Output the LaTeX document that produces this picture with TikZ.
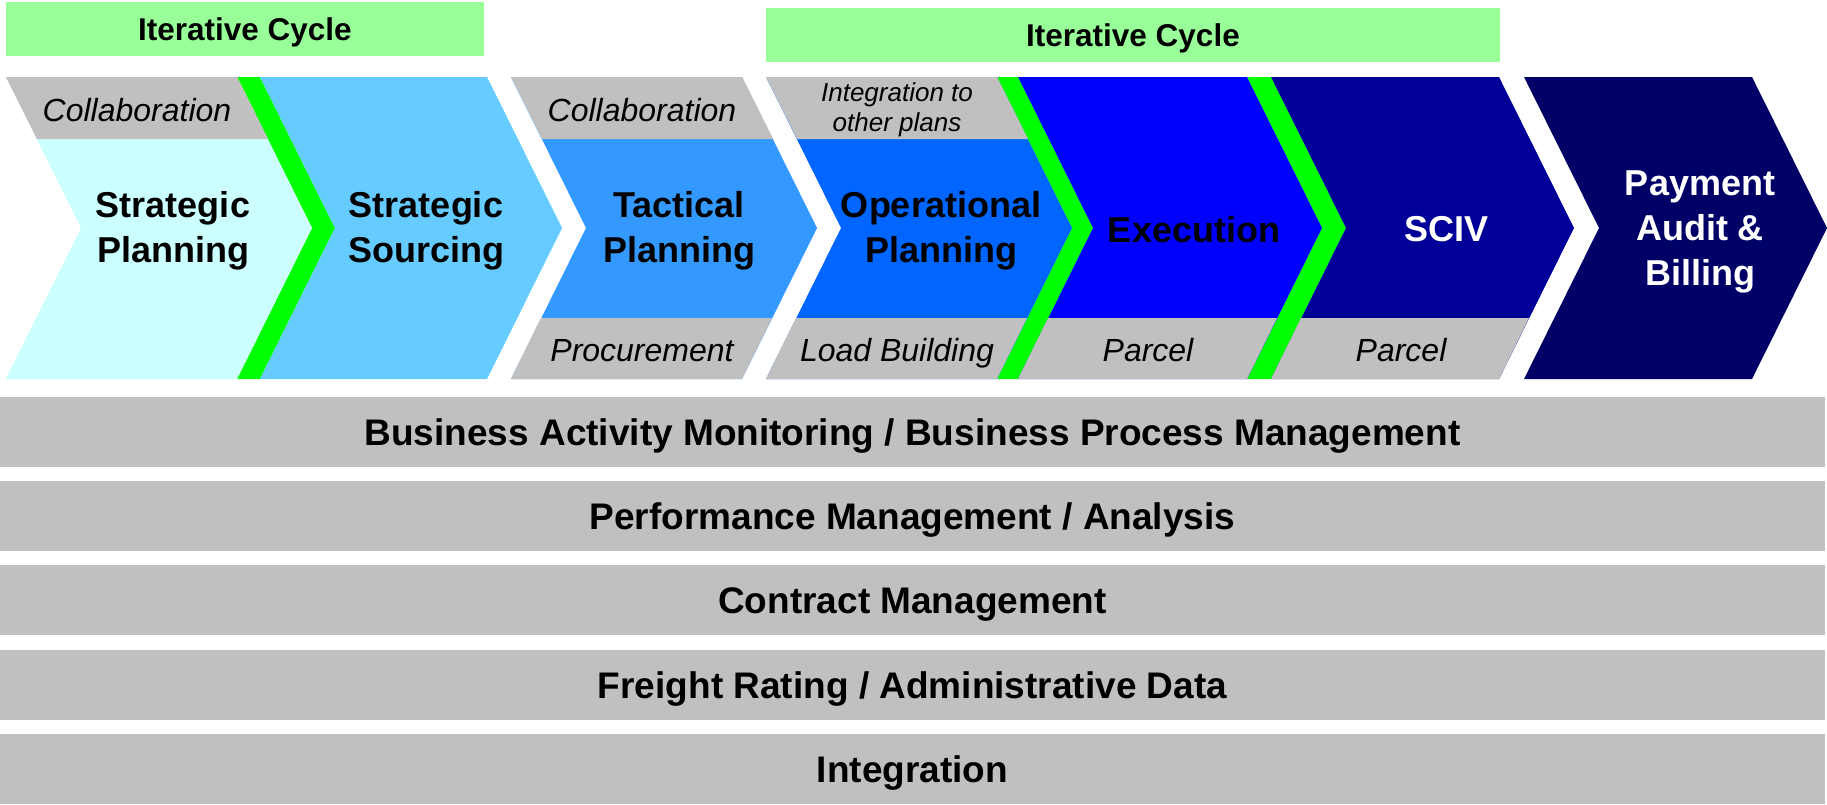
\documentclass[tikz,border=0pt]{standalone}
\usepackage{fontspec}
\setmainfont{Liberation Sans}
\definecolor{cyc}{HTML}{99FF99}
\definecolor{grn}{HTML}{00FF00}
\definecolor{gry}{HTML}{C0C0C0}
\definecolor{c1}{HTML}{CCFFFF}
\definecolor{c2}{HTML}{66CCFF}
\definecolor{c3}{HTML}{3399FF}
\definecolor{c4}{HTML}{0066FF}
\definecolor{c5}{HTML}{0000FF}
\definecolor{c6}{HTML}{000099}
\definecolor{c7}{HTML}{000066}
\begin{document}
\begin{tikzpicture}[x=1pt,y=-1pt,
    title/.style={font=\fontsize{36}{45}\selectfont\bfseries,align=center},
    sub/.style={font=\fontsize{32}{36}\selectfont\itshape,anchor=base},
    cycle/.style={fill=cyc,minimum height=54,inner sep=0,text height=23pt,text depth=0pt,
      font=\fontsize{31.5}{36}\selectfont\bfseries},
    bar/.style={fill=gry,minimum width=1825,minimum height=70,inner sep=0,text height=26pt,
      text depth=0pt,font=\fontsize{37}{42}\selectfont\bfseries}]
      \useasboundingbox (0,0) rectangle (1827,804);
      \node[cycle,minimum width=478] (cycA) at (245,29) {Iterative Cycle};
      \node[cycle,minimum width=734] (cycB) at (1133,35) {Iterative Cycle};
      \fill[grn] (237,77) -- (260,77) -- (335,228) -- (260,379) -- (237,379) -- (312,228) -- cycle;
      \fill[grn] (997,77) -- (1018,77) -- (1093,228) -- (1018,379) -- (997,379) -- (1072,228) -- cycle;
      \fill[grn] (1247,77) -- (1271,77) -- (1346,228) -- (1271,379) -- (1247,379) -- (1322,228) -- cycle;
      \fill[c1] (6,77) -- (237,77) -- (312,228) -- (237,379) -- (6,379) -- (81,228) -- cycle;
      \fill[c2] (260,77) -- (487,77) -- (562,228) -- (487,379) -- (260,379) -- (335,228) -- cycle;
      \fill[c3] (511,77) -- (742,77) -- (817,228) -- (742,379) -- (511,379) -- (586,228) -- cycle;
      \fill[c4] (766,77) -- (997,77) -- (1072,228) -- (997,379) -- (766,379) -- (841,228) -- cycle;
      \fill[c5] (1018,77) -- (1247,77) -- (1322,228) -- (1247,379) -- (1018,379) -- (1093,228) -- cycle;
      \fill[c6] (1271,77) -- (1499,77) -- (1574,228) -- (1499,379) -- (1271,379) -- (1346,228) -- cycle;
      \fill[c7] (1524,77) -- (1752,77) -- (1827,228) -- (1752,379) -- (1524,379) -- (1599,228) -- cycle;
      \begin{scope}[gry]
        \fill (6,77) -- (237,77) -- (268,139) -- (37,139) -- cycle;
        \fill (511,77) -- (742,77) -- (773,139) -- (542,139) -- cycle;
        \fill (766,77) -- (997,77) -- (1028,139) -- (797,139) -- cycle;
        \fill (541,318) -- (772,318) -- (742,379) -- (511,379) -- cycle;
        \fill (796,318) -- (1027,318) -- (997,379) -- (766,379) -- cycle;
        \fill (1048,318) -- (1277,318) -- (1247,379) -- (1018,379) -- cycle;
        \fill (1301,318) -- (1529,318) -- (1499,379) -- (1271,379) -- cycle;
      \end{scope}
      \node[title] (strat) at (173,231) {Strategic\\Planning};
      \node[title] (src) at (426,231) {Strategic\\Sourcing};
      \node[title] (tact) at (679,231) {Tactical\\Planning};
      \node[title] (oper) at (941,231) {Operational\\Planning};
      \node[title,anchor=base] (exec) at (1194,242) {Execution};
      \node[title,anchor=base,white] (sciv) at (1446,241) {SCIV};
      \node[title,white] (pay) at (1700,232) {Payment\\Audit \&\\Billing};
      \node[sub] (collA) at (137,121) {Collaboration};
      \node[sub] (collB) at (642,121) {Collaboration};
      \node[sub,anchor=center,align=center,font=\fontsize{26}{30}\selectfont\itshape] (other) at (897,110) {Integration to\\other plans};
      \node[sub] (proc) at (642,361) {Procurement};
      \node[sub] (load) at (897,361) {Load Building};
      \node[sub] (parA) at (1148,361) {Parcel};
      \node[sub] (parB) at (1401,361) {Parcel};
      \node[bar] (bam) at (912.5,432) {Business Activity Monitoring / Business Process Management};
      \node[bar] (perf) at (912.5,516) {Performance Management / Analysis};
      \node[bar] (contr) at (912.5,600) {Contract Management};
      \node[bar] (rate) at (912.5,685) {Freight Rating / Administrative Data};
      \node[bar] (integ) at (912.5,769) {Integration};
    \end{tikzpicture}
\end{document}
